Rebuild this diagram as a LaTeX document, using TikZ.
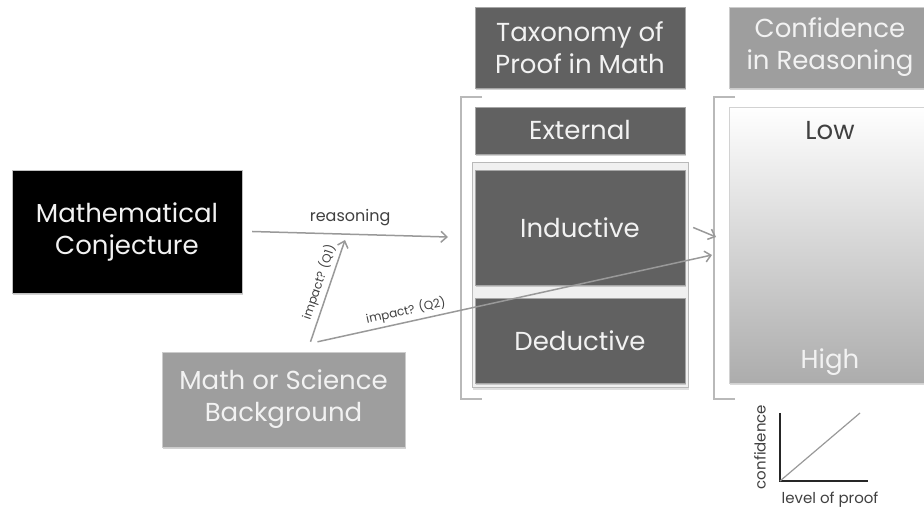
\documentclass[tikz,border=0pt]{standalone}
\usepackage{fontspec}
\setmainfont{Poppins}
\usepackage{xcolor}
\usetikzlibrary{positioning,shadows,arrows.meta}
\definecolor{boxdark}{gray}{0.38}
\definecolor{boxlight}{gray}{0.62}
\definecolor{linegray}{gray}{0.6}
\definecolor{textlight}{gray}{0.95}

\begin{document}
\begin{tikzpicture}[x=1pt, y=-1pt,
  >={Straight Barb[length=6pt,width=11pt]},
  kasten/.style={rectangle, inner sep=0pt, align=center, text=textlight,
    font=\fontsize{26}{32}\selectfont,
    drop shadow={opacity=0.35, shadow xshift=1pt, shadow yshift=-2pt}},
  dunkel/.style={kasten, fill=boxdark, draw=gray!70},
  hell/.style={kasten, fill=boxlight, draw=gray!40},
  pfeil/.style={->, linegray, line width=1.5pt},
  klein/.style={font=\fontsize{12}{14}\selectfont, text=black!75}]
\useasboundingbox (0,0) rectangle (924,510);

% Linke Seite
\node[kasten, fill=black, draw=gray!50, minimum width=230pt, minimum height=123pt] (mathconj) at (127,231.5) {Mathematical\\Conjecture};
\node[hell, minimum width=243pt, minimum height=95pt] (background) at (283.5,399.5) {Math or Science\\Background};

% Taxonomie
\node[dunkel, minimum width=210pt, minimum height=81pt] (taxonomy) at (580,47.5) {Taxonomy of\\Proof in Math};
\node[dunkel, minimum width=210pt, minimum height=47pt] (external) at (580,130.5) {External};
\node[rectangle, fill=gray!12, draw=gray!55, line width=1pt, minimum width=216pt, minimum height=225pt,
  drop shadow={opacity=0.25, shadow xshift=1pt, shadow yshift=-2pt}] (indgroup) at (580,275.5) {};
\node[dunkel, minimum width=210pt, minimum height=115pt] (inductive) at (580,227.5) {Inductive};
\node[dunkel, minimum width=210pt, minimum height=85pt] (deductive) at (580,340.5) {Deductive};

% Konfidenz
\node[hell, minimum width=202pt, minimum height=81pt] (confidence) at (830,47.5) {Confidence\\in Reasoning};
\node[rectangle, inner sep=0pt, top color=white, bottom color=gray!65, draw=gray!35,
  minimum width=202pt, minimum height=276pt,
  drop shadow={opacity=0.3, shadow xshift=1pt, shadow yshift=-2pt}] (conflevel) at (830,245) {};
\node[font=\fontsize{26}{32}\selectfont, text=black!75] (low) at (830,131) {Low};
\node[font=\fontsize{26}{32}\selectfont, text=textlight] (high) at (830,362) {High};

% Klammern
\foreach \bx in {461,714}
\draw[gray!55, line width=1.2pt] (\bx+21,97) -- (\bx,97) -- (\bx,399) -- (\bx+21,399);

% Pfeile
\coordinate (taxin) at (448,237);
\coordinate (q1end) at (345,240);
\coordinate (confin) at (716,237);
\coordinate (q2end) at (712,255);
\draw[pfeil] ([xshift=10pt]mathconj.east) -- node[klein, font=\fontsize{16}{18}\selectfont, above=4pt] {reasoning} (taxin);
\draw[pfeil] ([xshift=27pt,yshift=10pt]background.north) -- node[klein, sloped, above, pos=0.55] {impact? (Q1)} (q1end);
\draw[pfeil] ([xshift=34pt,yshift=10pt]background.north) -- node[klein, sloped, above, pos=0.23] {impact? (Q2)} (q2end);
\draw[pfeil] ([xshift=8pt]inductive.east) -- (confin);

% kleines Diagramm
\coordinate (chartorig) at (780,481);
\draw[black!85, line width=1.5pt] (780,413) -- (chartorig) -- (868,481);
\draw[linegray, line width=1.2pt] (chartorig) -- (860,413);
\node[klein, font=\fontsize{15}{17}\selectfont, rotate=90] (ylab) at (760,447) {confidence};
\node[klein, font=\fontsize{15}{17}\selectfont] (xlab) at (830,500) {level of proof};
\end{tikzpicture}
\end{document}
